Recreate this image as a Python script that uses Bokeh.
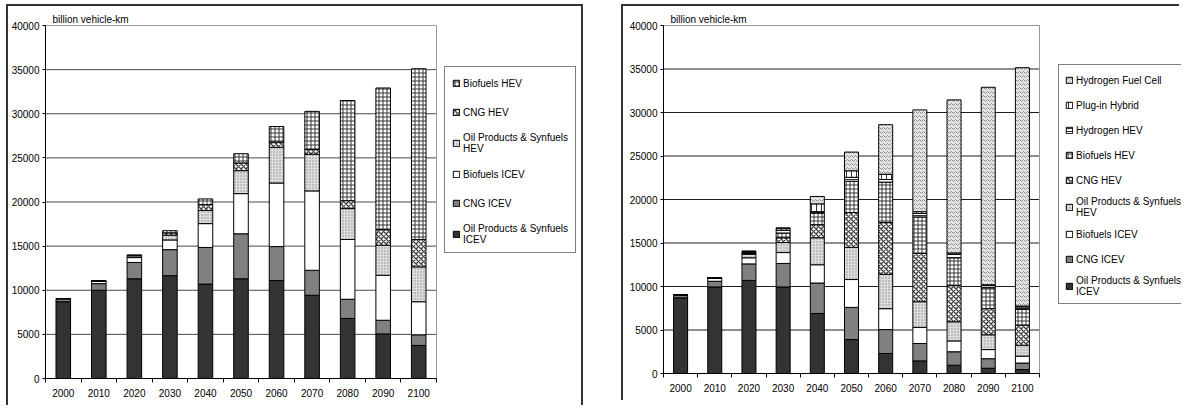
from bokeh.plotting import figure
from bokeh.models import (FixedTicker, Range1d, Legend, LegendItem)
from bokeh.layouts import row
from bokeh.embed import file_html
from bokeh.resources import INLINE

# ---------------- data ----------------
years = ["2000", "2010", "2020", "2030", "2040", "2050", "2060", "2070", "2080", "2090", "2100"]
y_ticks = [0, 5000, 10000, 15000, 20000, 25000, 30000, 35000, 40000]

# left panel (bottom -> top)
left_oil_icev = [8700, 10000, 11300, 11650, 10700, 11300, 11100, 9430, 6800, 5050, 3750]
left_cng_icev = [350, 750, 1850, 2950, 4150, 5100, 3850, 2830, 2180, 1550, 1200]
left_bio_icev = [0, 300, 550, 1100, 2700, 4550, 7200, 9000, 6770, 5100, 3750]
left_oil_hev = [0, 0, 200, 550, 1500, 2600, 4050, 4150, 3500, 3400, 3950]
left_cng_hev = [0, 0, 50, 250, 650, 870, 600, 560, 900, 1770, 3100]
left_bio_hev = [0, 0, 50, 250, 650, 1050, 1750, 4300, 11350, 16050, 19350]

# right panel (bottom -> top)
right_oil_icev = [8700, 9950, 10700, 9950, 6900, 3900, 2300, 1450, 950, 600, 450]
right_cng_icev = [300, 650, 1900, 2700, 3500, 3700, 2750, 2000, 1550, 1100, 750]
right_bio_icev = [0, 400, 700, 1250, 2100, 3200, 2400, 1850, 1250, 1050, 800]
right_oil_hev = [0, 0, 400, 1150, 3100, 3700, 3950, 2950, 2200, 1700, 1250]
right_cng_hev = [0, 0, 100, 550, 1500, 4000, 5950, 5550, 4150, 3000, 2300]
right_bio_hev = [0, 0, 100, 550, 1350, 3600, 4650, 4200, 3200, 2400, 1850]
right_h2_hev = [0, 0, 100, 300, 150, 450, 300, 400, 400, 250, 250]
right_plugin = [0, 0, 50, 200, 900, 750, 600, 200, 150, 100, 100]
right_fuelcell = [0, 0, 0, 100, 850, 2150, 5700, 11700, 17600, 22700, 27400]

FONT = "Liberation Sans"

STYLES = {
    "oil_icev": dict(fill_color="#333333"),
    "cng_icev": dict(fill_color="#808080"),
    "bio_icev": dict(fill_color="#ffffff"),
    "oil_hev": dict(fill_color="#dedede", hatch_pattern="dot", hatch_scale=3, hatch_color="#8c8c8c", hatch_weight=0.6),
    "cng_hev": dict(fill_color="#ffffff", hatch_pattern="diagonal_cross", hatch_scale=5, hatch_color="#404040", hatch_weight=1.3),
    "bio_hev": dict(fill_color="#ffffff", hatch_pattern="cross", hatch_scale=4, hatch_color="#333333", hatch_weight=1),
    "h2_hev": dict(fill_color="#ffffff", hatch_pattern="horizontal_line", hatch_scale=3, hatch_color="#333333", hatch_weight=1),
    "plugin": dict(fill_color="#ffffff", hatch_pattern="vertical_line", hatch_scale=5, hatch_color="#333333", hatch_weight=1),
    "fuelcell": dict(fill_color="#e4e4e4", hatch_pattern="horizontal_wave", hatch_scale=4, hatch_color="#8f8f8f", hatch_weight=1),
}


def make_panel(series, width, height, min_left, min_top, min_bottom, bar_area_w,
               grid_color, legend_loc, legend_padding, legend_spacing, styles):
    n = len(years)
    xs = list(range(n))
    frame_w = width - min_left
    x_end = -0.5 + n * frame_w / bar_area_w

    p = figure(width=width, height=height, output_backend="svg", toolbar_location=None,
               x_range=Range1d(-0.5, x_end), y_range=Range1d(0, 40000),
               min_border_left=min_left, min_border_top=min_top, min_border_bottom=min_bottom,
               min_border_right=0)
    p.styles = styles
    p.background_fill_color = "white"
    p.border_fill_color = "white"
    p.outline_line_color = None

    # title used as the unit label above the plot area
    p.title.text = "billion vehicle-km"
    p.title.align = "left"
    p.title.offset = 7
    p.title.standoff = 2
    p.title.text_font = FONT
    p.title.text_font_size = "10px"
    p.title.text_font_style = "normal"
    p.title.text_color = "black"

    # plot-area frame and gridlines (limited to the bar area)
    p.segment(x0=[-0.5] * len(y_ticks), x1=[n - 0.5] * len(y_ticks), y0=y_ticks, y1=y_ticks,
              line_color=grid_color, line_width=1)
    p.quad(left=[-0.5], right=[n - 0.5], bottom=[0], top=[40000], fill_color=None,
           line_color="#9a9a9a", line_width=1)

    renderers = []
    bottom = [0] * n
    for key, label, vals in series:
        top = [b + v for b, v in zip(bottom, vals)]
        r = p.vbar(x=xs, bottom=bottom, top=top, width=0.41, line_color="black", line_width=1,
                   **STYLES[key])
        renderers.append((label, r))
        bottom = top

    # axes
    p.xaxis.bounds = (-0.5, n - 0.5)
    p.xaxis.ticker = FixedTicker(ticks=xs, minor_ticks=[i - 0.5 for i in range(n + 1)])
    p.xaxis.major_label_overrides = {i: y for i, y in enumerate(years)}
    p.xaxis.major_tick_out = 0
    p.xaxis.major_tick_in = 0
    p.xaxis.minor_tick_out = 4
    p.xaxis.minor_tick_in = 0
    p.xaxis.minor_tick_line_color = "black"
    p.xaxis.major_label_standoff = 6
    p.yaxis.ticker = FixedTicker(ticks=y_ticks)
    p.yaxis.major_tick_out = 3
    p.yaxis.major_tick_in = 0
    p.yaxis.minor_tick_line_color = None
    p.yaxis.major_label_standoff = 3
    for ax in (p.xaxis, p.yaxis):
        ax.axis_line_color = "black"
        ax.major_tick_line_color = "black"
        ax.major_label_text_font = FONT
        ax.major_label_text_font_size = "10px"
        ax.major_label_text_color = "black"
    p.xgrid.grid_line_color = None
    p.ygrid.grid_line_color = None

    items = [LegendItem(label=lab, renderers=[r]) for lab, r in reversed(renderers)]
    leg = Legend(items=items, location=legend_loc, margin=0, padding=legend_padding,
                 spacing=legend_spacing, glyph_width=8, glyph_height=8, label_standoff=3,
                 label_height=18, label_text_font=FONT, label_text_font_size="10px",
                 label_text_color="black",
                 border_line_color="black", border_line_width=1, background_fill_color="white",
                 background_fill_alpha=1)
    p.add_layout(leg, "center")
    return p


left_series = [
    ("oil_icev", "Oil Products & Synfuels\nICEV", left_oil_icev),
    ("cng_icev", "CNG ICEV", left_cng_icev),
    ("bio_icev", "Biofuels ICEV", left_bio_icev),
    ("oil_hev", "Oil Products & Synfuels\nHEV", left_oil_hev),
    ("cng_hev", "CNG HEV", left_cng_hev),
    ("bio_hev", "Biofuels HEV", left_bio_hev),
]
right_series = [
    ("oil_icev", "Oil Products & Synfuels\nICEV", right_oil_icev),
    ("cng_icev", "CNG ICEV", right_cng_icev),
    ("bio_icev", "Biofuels ICEV", right_bio_icev),
    ("oil_hev", "Oil Products & Synfuels\nHEV", right_oil_hev),
    ("cng_hev", "CNG HEV", right_cng_hev),
    ("bio_hev", "Biofuels HEV", right_bio_hev),
    ("h2_hev", "Hydrogen HEV", right_h2_hev),
    ("plugin", "Plug-in Hybrid", right_plugin),
    ("fuelcell", "Hydrogen Fuel Cell", right_fuelcell),
]

border = "2px solid #333333"
p1 = make_panel(left_series, width=577, height=401, min_left=37, min_top=19, min_bottom=29,
                bar_area_w=391, grid_color="#4a4a4a", legend_loc=(399, 125),
                legend_padding=7, legend_spacing=11,
                styles={"border-top": border, "border-left": border, "border-right": border})
p2 = make_panel(right_series, width=558, height=396, min_left=40, min_top=19, min_bottom=29,
                bar_area_w=376, grid_color="#1e1e1e", legend_loc=(395, 69),
                legend_padding=6, legend_spacing=7,
                styles={"border-top": border, "border-left": border})

layout = row(p1, p2, spacing=38, styles={"margin-left": "6px", "margin-top": "4px"})
open("out.html", "w").write(file_html(layout, INLINE))
